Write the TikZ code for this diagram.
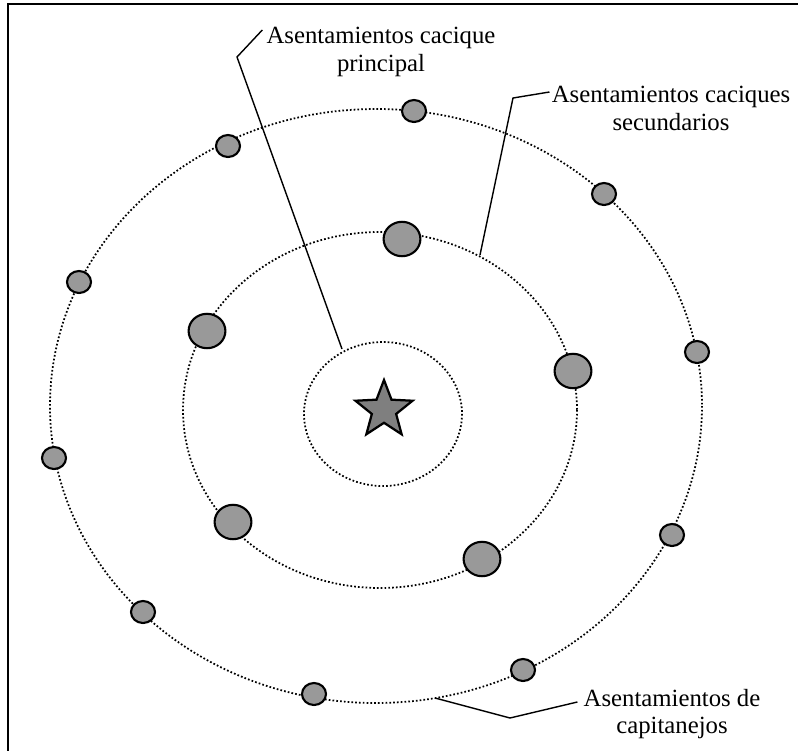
\documentclass[tikz,border=0pt]{standalone}
\usepackage{fontspec}
\setmainfont{Liberation Serif}
\usetikzlibrary{shapes.geometric}
\definecolor{MapaGris}{HTML}{999999}
\definecolor{MapaEstrella}{HTML}{7F7F7F}
\tikzset{
  anillo/.style={line width=1.25pt,dash pattern=on 1.2pt off 1.5pt},
  asentmayor/.style={
    draw,
    ellipse,
    fill=MapaGris,
    line width=1.5pt,
    minimum width=0.92cm,
    minimum height=0.86cm,
    inner sep=0pt
  },
  asentmenor/.style={
    asentmayor,
    minimum width=0.6cm,
    minimum height=0.55cm
  },
  rotulo/.style={align=center,inner sep=0pt,font=\fontsize{17.6}{19.5}\selectfont},
  guia/.style={line width=1pt}
}

\begin{document}
\begin{tikzpicture}[x=0.025cm,y=-0.025cm]
    \useasboundingbox (0,0) rectangle (798,751);
    \draw[line width=1.4pt] (8,4) rectangle (830,790);
    % anillos de asentamientos
    \draw[anillo] (383,414) ellipse [x radius=79,y radius=72];
    \draw[anillo] (380,410) ellipse [x radius=197,y radius=178];
    \draw[anillo] (376,406) ellipse [x radius=326,y radius=297];
    \node[star,star points=5,star point ratio=2.35,draw,fill=MapaEstrella,line width=1.6pt,
      minimum size=1.5cm,inner sep=0pt] (cacique) at (384,410) {};
    \foreach \px/\py [count=\i] in {402/239,207/331,573/371,233/522,482/559}
      \node[asentmayor] (mayor\i) at (\px,\py) {};
    \foreach \px/\py [count=\i] in {414/111,228/146,79/282,54/458,143/612,314/694,523/670,672/535,697/352,604/194}
      \node[asentmenor] (menor\i) at (\px,\py) {};
    % rotulos
    \node[rotulo,anchor=north] (lblprincipal) at (381,27) {Asentamientos cacique\\principal};
    \node[rotulo,anchor=north] (lblsecund) at (671,86) {Asentamientos caciques\\secundarios};
    \node[rotulo,anchor=north] (lblcapit) at (672,689) {Asentamientos de\\capitanejos};
    \coordinate (codoprincipal) at (237,57);
    \coordinate (finprincipal) at (342,349);
    \coordinate (codosecund) at (513,98);
    \coordinate (finsecund) at (480,255);
    \coordinate (codocapit) at (510,718);
    \coordinate (fincapit) at (435,698);
    \draw[guia] ([shift={(-4,3)}]lblprincipal.north west) -- (codoprincipal) -- (finprincipal);
    \draw[guia] ([shift={(-2,6)}]lblsecund.north west) -- (codosecund) -- (finsecund);
    \draw[guia] ([shift={(-6,13)}]lblcapit.north west) -- (codocapit) -- (fincapit);
\end{tikzpicture}
\end{document}
